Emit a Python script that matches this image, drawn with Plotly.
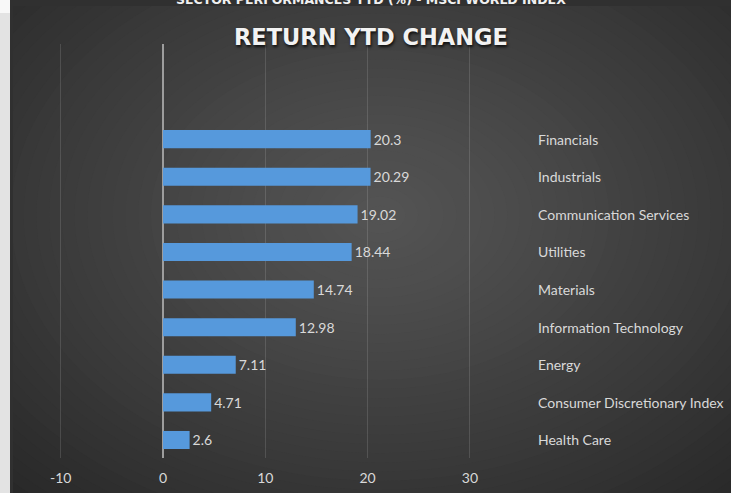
import plotly.graph_objects as go

# ---- data ----
categories = ["Health Care", "Consumer Discretionary Index", "Energy",
              "Information Technology", "Materials", "Utilities",
              "Communication Services", "Industrials", "Financials"]
values = [2.6, 4.71, 7.11, 12.98, 14.74, 18.44, 19.02, 20.29, 20.3]
value_labels = ["2.6", "4.71", "7.11", "12.98", "14.74", "18.44", "19.02", "20.29", "20.3"]
x_ticks = [-10, 0, 10, 20, 30]
x_tick_labels = ["-10", "0", "10", "20", "30"]
chart_title = "RETURN YTD CHANGE"
page_title = "SECTOR PERFORMANCES YTD (%) - MSCI WORLD INDEX"

W, H = 731, 493
ML, MR, MT, MB = 13, 0, 44, 35
PW, PH = W - ML - MR, H - MT - MB


def px(xp):
    return (xp - ML) / PW


def py(yp):
    return (H - MB - yp) / PH


label_font = dict(family="Lato, 'Open Sans', sans-serif", size=14, color="#d9d9d9")

fig = go.Figure()
fig.add_trace(go.Bar(
    x=values, y=categories, orientation="h",
    width=0.48,
    marker=dict(color="#5699dc", line=dict(width=0)),
    text=value_labels, textposition="outside",
    textfont=label_font, cliponaxis=False,
    hoverinfo="skip",
))

shapes = []
# chart box base
shapes.append(dict(type="rect", xref="paper", yref="paper", layer="below",
                   x0=px(13), x1=px(W), y0=py(H), y1=py(6),
                   fillcolor="#262626", line=dict(width=0)))
# radial gradient via concentric ellipses
cx, cy = 380, 215
N = 44
Rmax = 560
for i in range(N):
    t = 1 - i / N
    rx = Rmax * t
    ry = rx * 0.72
    v = int(round(84 - (84 - 38) * (t ** 1.15)))
    col = "#%02x%02x%02x" % (v, v, v)
    shapes.append(dict(type="circle", xref="paper", yref="paper", layer="below",
                       x0=px(cx - rx), x1=px(cx + rx), y0=py(cy + ry), y1=py(cy - ry),
                       fillcolor=col, line=dict(width=0)))
# frame pieces
shapes.append(dict(type="rect", xref="paper", yref="paper", layer="below",
                   x0=px(0), x1=px(W + 5), y0=py(6), y1=py(-5),
                   fillcolor="#303030", line=dict(width=0)))
shapes.append(dict(type="rect", xref="paper", yref="paper", layer="below",
                   x0=px(-5), x1=px(13), y0=py(H + 5), y1=py(-5),
                   fillcolor="#303030", line=dict(width=0)))
shapes.append(dict(type="rect", xref="paper", yref="paper", layer="below",
                   x0=px(-5), x1=px(10), y0=py(H + 5), y1=py(13),
                   fillcolor="#e3e3e3", line=dict(width=0)))
shapes.append(dict(type="rect", xref="paper", yref="paper", layer="below",
                   x0=px(-5), x1=px(10), y0=py(13), y1=py(-5),
                   fillcolor="#f8f8f8", line=dict(width=0)))

annotations = []
for c in categories:
    annotations.append(dict(x=36.5, y=c, xref="x", yref="y", text=c,
                            showarrow=False, xanchor="left", yanchor="middle",
                            font=label_font))
annotations.append(dict(x=px(370.5), y=py(37), xref="paper", yref="paper",
                        text="<b>" + chart_title + "</b>", showarrow=False,
                        xanchor="center", yanchor="middle",
                        font=dict(family="DejaVu Sans", size=22.5, color="#f2f2f2",
                                  shadow="1px 2px 3px rgba(0,0,0,0.8)")))
annotations.append(dict(x=px(371), y=py(9), xref="paper", yref="paper",
                        text="<b>" + page_title + "</b>", showarrow=False,
                        xanchor="center", yanchor="bottom",
                        font=dict(family="DejaVu Sans", size=12.5, color="#f0f0f0")))

fig.update_layout(
    width=W, height=H,
    margin=dict(l=ML, r=MR, t=MT, b=MB, pad=0),
    paper_bgcolor="#303030",
    plot_bgcolor="rgba(0,0,0,0)",
    showlegend=False,
    shapes=shapes,
    annotations=annotations,
    bargap=0.5,
    xaxis=dict(
        range=[-150 / 10.23, (W - ML - 150) / 10.23],
        tickmode="array", tickvals=x_ticks, ticktext=x_tick_labels,
        showgrid=True, gridcolor="rgba(255,255,255,0.13)", gridwidth=1,
        zeroline=True, zerolinecolor="#9d9d9d", zerolinewidth=1.5,
        showline=False, ticks="outside", ticklen=7, tickcolor="rgba(0,0,0,0)",
        tickfont=label_font, fixedrange=True,
    ),
    yaxis=dict(
        type="category", categoryorder="array", categoryarray=categories,
        range=[-0.479, 10.53],
        showticklabels=False, showgrid=False, zeroline=False, showline=False,
        fixedrange=True,
    ),
)

fig.write_html(
    "out.html",
    config={"displayModeBar": False},
    post_script="document.body.style.margin='0';document.body.style.overflow='hidden';",
)
